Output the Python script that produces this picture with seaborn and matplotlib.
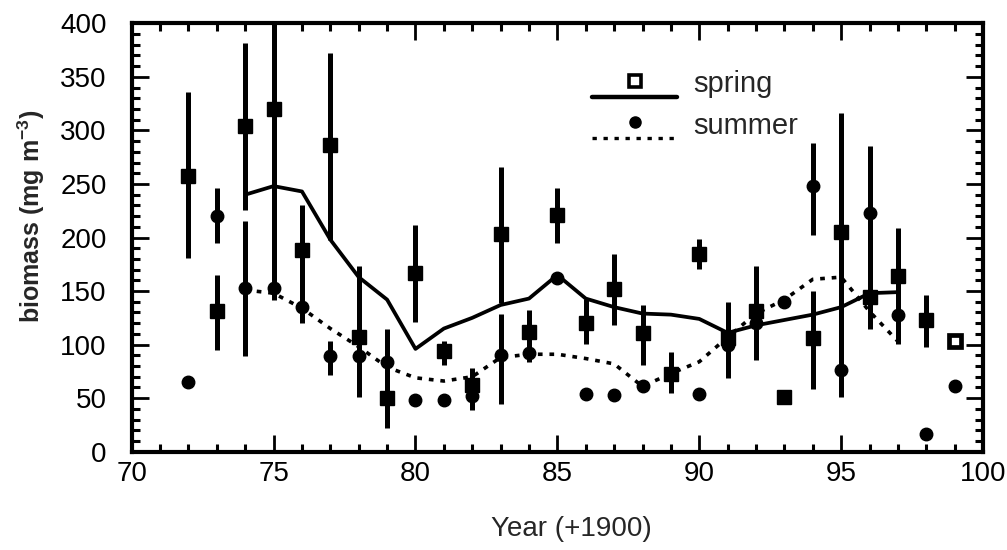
import numpy as np
import pandas as pd
import matplotlib
matplotlib.use("Agg")
import matplotlib.pyplot as plt
import seaborn as sns
from matplotlib.lines import Line2D
from matplotlib.legend_handler import HandlerBase
from matplotlib.ticker import MultipleLocator

nan = np.nan

# ---------------- data ----------------
years = list(range(72, 100))

spring = [257, 131, 304, 320, 188, 286, 107, 50, 167, 94, 62, 203, 112, 221,
          120, 152, 111, 73, 185, 106, 131, 51, 106, 205, 144, 164, 123, 103]
spring_lo = [181, 95, 226, 142, 120, 198, 51, 22, 121, 81, 39, 139, 84, 195,
             101, 118, 81, 55, 171, 69, 86, nan, 59, 51, 115, 101, 98, nan]
spring_hi = [336, 165, 382, 430, 230, 372, 173, 115, 212, 103, 78, 266, 132, 246,
             143, 185, 137, 93, 199, 140, 173, nan, 150, 316, 285, 209, 146, nan]
spring_open_years = [99]

summer = [65, 220, 153, 153, 135, 89, 89, 84, 48, 48, 52, 90, 92, 162,
          54, 53, 61, nan, 54, 100, 120, 140, 248, 76, 223, 128, 17, 61]
summer_lo = [nan, 195, 89, nan, nan, 72, nan, nan, nan, nan, nan, 45, nan, nan,
             nan, nan, nan, nan, nan, nan, nan, nan, 202, nan, nan, nan, nan, nan]
summer_hi = [nan, 246, 215, nan, nan, 103, nan, nan, nan, nan, nan, 129, nan, nan,
             nan, nan, nan, nan, nan, nan, nan, nan, 288, nan, nan, nan, nan, nan]

smooth_years = list(range(74, 98))
spring_smooth = [240, 248, 243, 198, 163, 142, 96, 115, 125, 137, 143, 165,
                 143, 135, 129, 128, 124, 111, 118, 123, 128, 135, 148, 149]
summer_smooth = [151, 148, 134, 115, 98, 79, 69, 66, 70, 88, 91, 91,
                 87, 82, 61, 73, 84, 107, 129, 142, 161, 163, 131, 103]

x_ticks = [70, 75, 80, 85, 90, 95, 100]
y_ticks = [0, 50, 100, 150, 200, 250, 300, 350, 400]
series_labels = ["spring", "summer"]
x_label = "Year (+1900)"
y_label = "biomass (mg m$^{-3}$)"

# ---------------- styling ----------------
sns.set_theme(style="ticks")
plt.rcParams["font.family"] = ["Liberation Sans", "DejaVu Sans"]
plt.rcParams["mathtext.default"] = "regular"

fig = plt.figure(figsize=(10.07, 5.50), dpi=100)
ax = fig.add_axes([0.1308, 0.1787, 0.8454, 0.7789])

df_pts = pd.DataFrame({"year": years, "spring": spring, "spring_lo": spring_lo,
                       "spring_hi": spring_hi, "summer": summer,
                       "summer_lo": summer_lo, "summer_hi": summer_hi})
df_smooth = pd.DataFrame({"year": smooth_years, "spring": spring_smooth,
                          "summer": summer_smooth})

# smoothed curves
sns.lineplot(data=df_smooth, x="year", y="spring", ax=ax, color="black",
             lw=2.7, linestyle="-", zorder=3)
sns.lineplot(data=df_smooth, x="year", y="summer", ax=ax, color="black",
             lw=2.6, linestyle=(0, (1.3, 1.9)), zorder=3)

# error bars
for key in ["spring", "summer"]:
    sub = df_pts.dropna(subset=[key + "_lo", key + "_hi"])
    yerr = np.vstack([sub[key] - sub[key + "_lo"], sub[key + "_hi"] - sub[key]])
    ax.errorbar(sub["year"], sub[key], yerr=yerr, fmt="none", ecolor="black",
                elinewidth=3.6, capsize=0, zorder=2)

# markers
is_open = df_pts["year"].isin(spring_open_years)
sp_fill = df_pts[~is_open]
sp_open = df_pts[is_open]
ax.plot(sp_fill["year"], sp_fill["spring"], ls="none", marker="s", ms=9.5,
        mfc="black", mec="black", mew=1, zorder=4)
ax.plot(sp_open["year"], sp_open["spring"], ls="none", marker="s", ms=8.5,
        mfc="white", mec="black", mew=3.4, zorder=4)
sm = df_pts.dropna(subset=["summer"])
ax.plot(sm["year"], sm["summer"], ls="none", marker="o", ms=9,
        mfc="black", mec="black", mew=1, zorder=4)

# axes
ax.set_xlim(70, 100)
ax.set_ylim(0, 400)
ax.set_xticks(x_ticks)
ax.set_yticks(y_ticks)
ax.xaxis.set_minor_locator(MultipleLocator(1))
ax.yaxis.set_minor_locator(MultipleLocator(10))
ax.tick_params(which="both", direction="in", top=True, right=True, colors="black")
ax.tick_params(which="major", length=12, width=2.0, labelsize=20)
ax.tick_params(which="minor", length=6, width=2.2)
ax.tick_params(axis="x", which="major", pad=7)
ax.tick_params(axis="y", which="major", pad=18)
for s in ax.spines.values():
    s.set_visible(True)
    s.set_linewidth(3)
    s.set_color("black")
ax.set_facecolor("white")
ax.grid(False)

ax.set_xlabel(x_label, fontsize=20)
ax.set_ylabel(y_label, fontsize=18, fontweight="bold")
ax.xaxis.set_label_coords(0.516, -0.15)
ax.xaxis.label.set_va("top")
ax.yaxis.set_label_coords(-0.1, 0.55)


# legend: marker drawn above the line sample
class MarkerAboveLine(HandlerBase):
    def __init__(self, line_kw, marker_kw):
        super().__init__()
        self.line_kw = line_kw
        self.marker_kw = marker_kw

    def create_artists(self, legend, orig_handle, xdescent, ydescent,
                       width, height, fontsize, trans):
        ymid = height / 2 - ydescent
        ln = Line2D([-xdescent, -xdescent + width], [ymid - 0.7 * height] * 2,
                    **self.line_kw)
        mk = Line2D([-xdescent + width / 2], [ymid + 0.05 * height], ls="none",
                    **self.marker_kw)
        ln.set_transform(trans)
        mk.set_transform(trans)
        return [ln, mk]


h_spring = Line2D([], [])
h_summer = Line2D([], [])
handler_map = {
    h_spring: MarkerAboveLine(dict(color="black", lw=3.2, ls="-"),
                              dict(marker="s", ms=8, mfc="white", mec="black", mew=2.6)),
    h_summer: MarkerAboveLine(dict(color="black", lw=2.4, ls=(0, (1.3, 2.0))),
                              dict(marker="o", ms=8, mfc="black", mec="black")),
}
ax.legend([h_spring, h_summer], series_labels, handler_map=handler_map,
          loc="upper left", bbox_to_anchor=(0.541, 0.89), frameon=False,
          fontsize=21, handlelength=2.9, handletextpad=0.55, labelspacing=0.45,
          borderpad=0, borderaxespad=0)

fig.savefig("out.png", dpi=100, facecolor="white")
